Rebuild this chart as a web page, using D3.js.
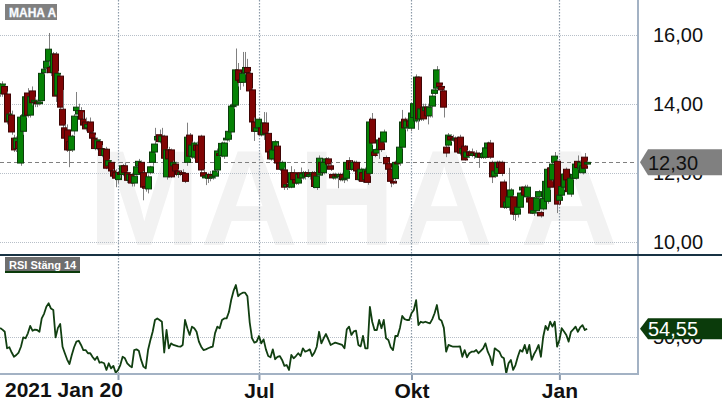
<!DOCTYPE html>
<html><head><meta charset="utf-8">
<script src="https://cdn.jsdelivr.net/npm/d3@7/dist/d3.min.js"></script>
<style>html,body{margin:0;padding:0;background:#fff;}svg{display:block;font-family:"Liberation Sans",Arial,sans-serif;}</style>
</head><body>
<script>
// ---- data (trading-day index 0 = 2021 Jan 20) ----
const open = [14.35,14.3,14.5,14.28,13.5,13.67,13.0,12.7,12.9,12.28,13.2,13.65,14.31,13.67,14.37,14.05,14.05,14.0,14.09,14.9,15.03,15.24,15.05,14.9,15.44,14.25,14.8,13.84,13.3,13.24,12.9,12.66,13.21,13.8,13.7,13.8,13.55,13.47,13.3,13.47,13.15,13.0,12.7,12.9,12.7,12.5,12.68,12.2,12.3,12.05,12.0,11.8,12.0,11.95,12.2,12.0,11.78,11.95,11.7,11.95,12.2,12.3,12.0,11.6,11.53,12.0,12.3,12.6,12.95,13.1,12.9,13.06,11.88,12.66,12.66,12.2,12.25,12.05,11.95,12.0,11.98,12.3,13.09,12.48,12.45,12.8,12.8,13.06,12.0,11.85,11.84,11.95,11.85,11.9,12.08,12.55,12.5,12.48,12.95,12.97,13.18,13.93,13.96,14.98,14.68,14.62,14.9,15.05,14.88,14.4,13.47,13.2,13.3,13.3,13.1,13.44,13.14,12.6,12.4,12.66,12.77,12.28,12.1,12.08,11.6,11.65,11.58,12.0,11.8,11.7,12.0,11.85,11.9,12.0,11.9,11.95,12.0,11.57,11.93,12.3,12.0,12.3,12.4,12.2,11.95,11.85,11.95,11.9,11.95,11.8,11.84,12.35,12.3,12.1,12.3,12.05,11.8,12.0,11.8,12.05,11.98,13.55,12.6,12.57,12.67,13.0,12.89,12.44,12.26,12.1,11.75,11.83,12.3,12.28,12.74,13.55,13.3,13.5,13.29,13.6,13.5,14.77,13.56,13.9,13.8,13.9,13.65,13.93,14.3,14.45,14.6,14.5,14.37,12.74,12.8,13.05,13.0,12.95,13.0,13.03,12.57,12.77,12.45,12.6,12.6,12.5,12.57,12.45,12.55,12.45,12.45,12.72,12.86,12.3,11.9,11.98,12.3,12.3,11.73,11.0,11.0,11.3,11.3,10.85,10.8,11.0,11.5,11.58,11.3,11.27,11.27,10.83,10.9,11.3,10.85,10.95,11.25,11.17,12.14,11.79,12.3,12.33,11.2,11.35,11.58,12.1,11.79,11.38,11.84,11.84,12.33,12.13,12.0,12.45,12.25];
const high = [14.6,14.65,14.55,14.35,13.75,13.8,13.1,13.05,13.0,13.7,13.7,14.3,14.45,14.25,14.5,14.2,14.1,14.1,14.95,15.1,15.5,16.05,15.3,15.5,15.5,14.95,14.85,14.4,13.4,13.4,13.0,13.1,13.7,14.34,14.0,13.9,13.75,13.6,13.5,13.6,13.2,13.1,13.0,12.95,12.8,12.7,12.75,12.4,12.35,12.1,12.1,12.05,12.1,12.25,12.3,12.05,12.0,12.0,11.95,12.2,12.4,12.35,12.05,11.7,11.95,12.2,12.65,13.3,13.1,13.25,13.3,13.1,12.7,12.75,12.7,12.35,12.3,12.1,12.05,12.1,12.0,13.45,13.15,12.9,12.9,12.9,12.85,13.1,12.1,11.95,12.0,12.05,12.0,12.1,12.7,12.6,12.9,12.9,13.05,13.25,14.0,14.0,15.6,15.18,14.9,15.5,15.5,15.3,14.95,14.45,13.6,13.5,13.6,13.35,13.76,13.75,13.2,12.65,12.7,12.95,12.85,12.35,12.35,12.15,11.7,11.75,12.19,12.1,11.9,12.0,12.15,12.05,12.05,12.1,12.0,12.05,12.05,11.95,12.5,12.4,12.35,12.45,12.45,12.3,12.0,12.0,12.0,12.0,12.0,11.9,12.35,12.45,12.35,12.35,12.35,12.1,12.15,12.1,12.15,12.1,13.6,13.73,12.7,12.75,13.0,13.05,13.25,12.5,12.3,12.15,11.8,12.35,12.4,12.8,13.82,13.6,13.55,13.55,13.8,14.1,14.85,14.8,13.9,14.0,14.0,14.0,13.95,14.3,14.45,15.09,15.0,14.55,14.45,12.8,13.15,13.1,13.1,13.05,13.05,13.1,12.75,12.8,12.65,12.65,12.7,12.6,12.65,12.6,12.6,12.6,12.75,12.9,12.95,12.35,12.1,12.35,12.35,12.35,11.8,11.2,12.14,11.55,11.35,10.9,11.05,11.45,11.6,11.65,11.65,11.3,11.3,11.0,11.3,11.5,10.9,11.5,11.8,12.15,12.2,12.3,12.6,12.4,11.4,11.65,12.0,12.15,11.85,11.9,12.0,12.3,12.5,12.35,12.25,12.57,12.35];
const low = [14.2,14.2,14.2,13.4,13.4,13.1,12.6,12.6,12.6,12.2,13.1,13.6,13.6,13.6,13.95,13.9,13.9,13.95,14.05,14.85,14.9,15.1,14.8,14.8,14.05,14.05,13.85,13.3,12.9,12.6,12.16,12.6,13.1,13.7,13.6,13.5,13.3,13.2,13.2,13.1,12.9,12.65,12.65,12.6,12.45,12.4,12.1,12.1,12.0,11.85,11.58,11.7,11.85,11.9,11.95,11.7,11.7,11.6,11.6,11.9,12.1,11.95,11.2,11.45,11.4,11.95,12.2,12.55,12.9,12.85,12.85,12.4,11.8,12.3,11.85,12.1,11.9,11.85,11.9,11.8,11.7,12.2,12.4,12.4,12.4,12.6,12.25,12.0,11.85,11.64,11.7,11.75,11.8,11.85,12.0,12.45,12.45,12.4,12.9,12.9,13.1,13.85,13.9,14.5,14.4,14.5,14.85,14.85,14.3,13.4,12.92,13.1,13.2,13.05,12.95,13.1,12.55,12.35,12.35,12.6,12.25,12.05,12.05,11.5,11.5,11.55,11.55,11.75,11.65,11.65,11.8,11.8,11.8,11.85,11.8,11.85,11.55,11.5,11.9,11.95,11.95,12.25,12.2,12.05,11.8,11.8,11.55,11.75,11.75,11.7,11.75,12.05,12.05,12.05,12.0,11.75,11.75,11.7,11.75,11.65,11.9,12.8,12.45,12.5,12.4,12.6,12.85,12.2,12.05,11.58,11.65,11.75,12.2,12.2,12.7,13.25,13.2,13.3,13.2,13.5,13.45,13.24,13.5,13.5,13.7,13.4,13.6,13.6,14.25,14.4,14.45,14.35,13.6,12.45,12.75,12.9,12.9,12.9,12.55,12.5,12.5,12.35,12.4,12.45,12.45,12.4,12.45,12.14,12.4,12.4,12.4,12.6,12.4,11.7,11.85,11.95,12.1,11.9,10.95,10.95,10.9,11.2,10.63,10.6,10.7,10.95,11.45,11.3,11.25,11.1,10.8,10.75,10.85,11.25,10.7,10.9,11.2,11.1,11.5,11.75,12.25,10.83,11.1,11.3,11.5,11.75,11.4,11.3,11.8,11.8,12.1,12.1,11.95,12.1,12.2];
const close = [14.45,14.57,14.28,13.47,13.7,13.18,12.66,13.0,12.7,13.61,13.65,14.2,13.67,14.2,14.03,14.1,14.0,14.05,14.88,15.0,15.23,15.58,14.9,15.44,14.22,14.88,13.9,13.38,13.0,12.66,12.66,13.06,13.64,13.9,13.8,13.55,13.38,13.27,13.4,13.17,13.0,12.7,12.95,12.7,12.5,12.68,12.13,12.35,12.05,11.9,11.84,12.0,11.95,12.2,12.0,11.78,11.95,11.7,11.9,12.17,12.33,12.0,11.58,11.55,11.88,12.17,12.6,12.83,13.05,12.9,13.06,12.42,12.66,12.4,11.88,12.3,12.05,11.95,12.0,11.98,11.75,13.03,12.48,12.8,12.86,12.65,12.3,12.08,11.9,11.9,11.95,11.85,11.9,12.05,12.63,12.5,12.85,12.86,13.0,13.2,13.93,13.96,14.98,14.68,14.62,14.88,15.05,14.9,14.37,13.47,13.2,13.3,13.55,13.1,13.44,13.14,12.6,12.4,12.66,12.9,12.28,12.1,12.3,11.58,11.65,11.6,12.0,11.8,11.7,11.95,11.85,11.97,12.0,11.9,11.95,12.0,11.6,11.9,12.42,12.0,12.3,12.4,12.25,12.1,11.85,11.9,11.9,11.95,11.8,11.84,12.3,12.1,12.1,12.3,12.05,11.8,12.1,11.75,12.1,11.72,13.47,12.86,12.5,12.67,12.95,12.67,13.18,12.26,12.1,11.75,11.7,12.3,12.28,12.74,13.47,13.3,13.5,13.35,13.73,14.0,14.77,13.56,13.85,13.56,13.9,13.65,13.9,14.22,14.4,14.98,14.5,14.4,13.9,12.57,13.09,12.95,12.95,13.0,12.6,12.57,12.7,12.37,12.6,12.5,12.5,12.55,12.5,12.55,12.45,12.55,12.72,12.86,12.45,11.88,12.05,12.3,12.15,11.98,11.0,11.15,11.3,11.5,10.8,10.8,11.0,11.41,11.58,11.35,11.58,11.15,10.83,10.9,11.27,11.45,10.75,11.25,11.75,12.1,11.58,12.25,12.48,11.09,11.35,11.6,11.96,11.79,11.45,11.84,11.95,12.25,12.15,12.3,12.2,12.13,12.30];
const rsi = [55,54,52.8,43.4,44,41,38.6,39.6,41,44.3,49.6,49.1,51.9,56.1,53.4,54,53.8,52.8,60.4,63,67,69,66,65.2,49.6,55,57.2,44.3,40.6,37,34.5,39.6,44,47.2,47.7,45.3,42.4,42.4,40.6,40.6,38.5,36.8,38.6,35.2,35.5,34.9,31.1,34.9,32,33.4,29.5,31,33.9,38.6,37.7,34.9,33.5,32.6,42.4,42.8,42,36.8,33,32,42.4,48,52.8,59.5,60.4,59.5,58.5,41,53.8,43.4,46.2,45.3,44.9,44.5,44.3,45.3,59.5,54.8,51,55.7,54.8,52.8,47.2,44.3,42.4,42.8,43.4,44,44.3,52,55.7,54.8,59.5,60.4,60.4,64,71,76,79.4,73,74.3,75,75,73,58,49.1,46.6,47.2,50.4,46.2,48.5,42.8,39,38.3,42.8,37.2,38.5,39,36.8,33.4,33.9,31.1,39.6,37.7,39,40.6,39,43.4,41.5,42,42.8,39,41,44.3,52.8,46.2,49.1,51.5,48.5,45.3,46,46.6,46.2,45.8,45.3,43.4,54.2,55.7,51,53,53.4,45.3,44.5,50.4,43.4,43.4,67,58.5,53.8,53.8,59.5,54.8,59.5,49.1,48.1,44,42.4,50.4,50.4,55,61.8,60,59.5,59.5,63.3,65.2,70.8,56.6,58.5,58,58.5,58,57.6,60,63.3,68,60,59.1,55,41.5,45.3,44.8,44.3,44.3,44.3,44.5,38.6,42.4,38.3,40.6,41.5,41.5,42.4,40.6,42,43.4,46.2,41.5,38.6,33.9,43.4,42.4,41.5,38.6,37.7,29.2,34.9,36.8,31.1,33.9,38.6,42.4,41.5,45.3,40.6,45.3,36.8,40,42.4,45.3,38.6,50,56.1,53.8,58.5,55.7,58.5,44.3,48.1,54.8,53,51,47.2,52.8,54.2,55.7,52.8,55.3,56.6,53.8,54.55];
const priceTicks = [10, 12, 14, 16];
const rsiTicks = [50];
const xTickIdx = [51, 112, 178, 242];
const xTickLabels = ["", "Jul", "Okt", "Jan"];
const startLabel = "2021 Jan 20";
const lastPrice = 12.30;
const lastRsi = 54.55;
const title = "MAHA A";
const rsiTitle = "RSI Stäng 14";

// ---- layout ----
const W = 722, H = 410, plotR = 638, mainB = 255, rsiB = 374;
const fmt = v => d3.format(".2f")(v).replace(".", ",");
const x = d3.scaleLinear().domain([51, 242]).range([118, 559.4]);
const y = d3.scaleLinear().domain([10, 16]).range([241.7, 34.7]);
const ry = d3.scaleLinear().domain([28, 97]).range([375.4, 254]);

const svg = d3.select("body").append("svg").attr("width", W).attr("height", H);
const defs = svg.append("defs");
defs.append("clipPath").attr("id", "cm").append("rect").attr("x", 0).attr("y", 0).attr("width", plotR).attr("height", mainB);
defs.append("clipPath").attr("id", "cr").append("rect").attr("x", 0).attr("y", mainB + 1).attr("width", plotR).attr("height", rsiB - mainB - 1);

// watermark
svg.append("text").attr("x", 88).attr("y", 245).attr("font-size", 135).attr("font-weight", "bold")
  .attr("fill", "#f2f2f2").text(title);

// grid
svg.append("g").selectAll("line").data(priceTicks).join("line")
  .attr("x1", 0).attr("x2", plotR).attr("y1", d => Math.round(y(d)) + 0.5).attr("y2", d => Math.round(y(d)) + 0.5)
  .attr("stroke", "#b7bfc8").attr("stroke-dasharray", "1,1");
svg.append("g").selectAll("line").data(rsiTicks).join("line")
  .attr("x1", 0).attr("x2", plotR).attr("y1", d => Math.round(ry(d)) + 0.5).attr("y2", d => Math.round(ry(d)) + 0.5)
  .attr("stroke", "#b7bfc8").attr("stroke-dasharray", "1,1");
svg.append("g").selectAll("line").data(xTickIdx).join("line")
  .attr("x1", d => Math.round(x(d)) + 0.5).attr("x2", d => Math.round(x(d)) + 0.5).attr("y1", 0).attr("y2", rsiB)
  .attr("stroke", "#8c9aa8").attr("stroke-width", 1.2).attr("stroke-dasharray", "1.5,1.5");

// last price dashed line
svg.append("line").attr("x1", 0).attr("x2", plotR).attr("y1", Math.round(y(lastPrice)) + 0.5).attr("y2", Math.round(y(lastPrice)) + 0.5)
  .attr("stroke", "#808080").attr("stroke-dasharray", "4,3");

// candles
const idx = d3.range(close.length);
const cg = svg.append("g").attr("clip-path", "url(#cm)");
const cw = 7;
idx.forEach(i => {
  const cx = x(i);
  const up = close[i] >= open[i];
  cg.append("line").attr("x1", Math.round(cx) + 0.5).attr("x2", Math.round(cx) + 0.5)
    .attr("y1", y(high[i])).attr("y2", y(low[i])).attr("stroke", "#808080").attr("stroke-width", 1);
  const top = y(Math.max(open[i], close[i])), bot = y(Math.min(open[i], close[i]));
  cg.append("rect").attr("x", Math.round(cx - cw / 2) + 0.5).attr("y", top)
    .attr("width", cw - 1).attr("height", Math.max(1.5, bot - top))
    .attr("fill", up ? "#058205" : "#800404").attr("stroke", up ? "#0c3d0c" : "#3f0505").attr("stroke-width", 1);
});

// RSI line
svg.append("path").attr("clip-path", "url(#cr)").datum(idx)
  .attr("d", d3.line().x(i => x(i)).y(i => ry(rsi[i])))
  .attr("fill", "none").attr("stroke", "#113f11").attr("stroke-width", 1.8).attr("stroke-linejoin", "round");

// frame lines
svg.append("line").attr("x1", plotR).attr("x2", plotR).attr("y1", 0).attr("y2", rsiB).attr("stroke", "#a3b2c4").attr("stroke-width", 2);
svg.append("line").attr("x1", 0).attr("x2", W).attr("y1", mainB).attr("y2", mainB).attr("stroke", "#183344").attr("stroke-width", 2);

// x axis
const xa = svg.append("g").attr("transform", `translate(0,${rsiB})`)
  .call(d3.axisBottom(x).tickValues(xTickIdx).tickFormat((d, i) => xTickLabels[i]).tickSize(6).tickPadding(3));
xa.select(".domain").remove();
xa.append("line").attr("x1", 0).attr("x2", plotR + 1).attr("y1", 0).attr("y2", 0).attr("stroke", "#a3b2c4").attr("stroke-width", 2);
xa.selectAll(".tick line").attr("stroke", "#8c9cb0").attr("stroke-width", 2);
xa.selectAll(".tick text").attr("font-size", 21).attr("font-weight", "bold").attr("fill", "#111").attr("font-family", "'Liberation Sans',Arial,sans-serif");
svg.append("text").attr("x", 5).attr("y", 397).attr("font-size", 21).attr("font-weight", "bold").attr("fill", "#111").text(startLabel);

// y axis (price)
const ya = svg.append("g").attr("transform", `translate(${plotR},0)`)
  .call(d3.axisRight(y).tickValues(priceTicks).tickFormat(fmt).tickSize(0).tickPadding(15));
ya.select(".domain").remove();
ya.selectAll("text").attr("font-size", 20).attr("fill", "#111").attr("font-family", "'Liberation Sans',Arial,sans-serif");
// y axis (rsi)
const ra = svg.append("g").attr("transform", `translate(${plotR},0)`)
  .call(d3.axisRight(ry).tickValues(rsiTicks).tickFormat(fmt).tickSize(0).tickPadding(15));
ra.select(".domain").remove();
ra.selectAll("text").attr("font-size", 20).attr("fill", "#111").attr("font-family", "'Liberation Sans',Arial,sans-serif");

// last value tags
function tag(cy, h, fill, txtFill, label) {
  const t = cy - h / 2, b = cy + h / 2;
  svg.append("path").attr("d", `M640,${cy}L648,${t}L722,${t}L722,${b}L648,${b}Z`).attr("fill", fill);
  svg.append("text").attr("x", 648).attr("y", cy).attr("dy", "0.36em").attr("font-size", 20).attr("fill", txtFill).text(label);
}
tag(y(lastPrice), 26, "#808080", "#111", fmt(lastPrice));
tag(ry(lastRsi), 21, "#0b3b0b", "#fff", fmt(lastRsi));

// legend boxes
svg.append("rect").attr("x", 5).attr("y", 4).attr("width", 52).attr("height", 16).attr("fill", "#808080");
svg.append("text").attr("x", 9).attr("y", 16.5).attr("font-size", 12).attr("font-weight", "bold").attr("fill", "#fff")
  .attr("stroke", "#e8f0ff").attr("stroke-width", 0.3).text(title);
svg.append("rect").attr("x", 5).attr("y", 257).attr("width", 75).attr("height", 16).attr("fill", "#6e6e6e");
svg.append("rect").attr("x", 5).attr("y", 271).attr("width", 75).attr("height", 2).attr("fill", "#0b3b0b");
svg.append("text").attr("x", 9).attr("y", 268.5).attr("font-size", 11).attr("font-weight", "bold").attr("fill", "#fff").text(rsiTitle);
</script>
</body></html>
